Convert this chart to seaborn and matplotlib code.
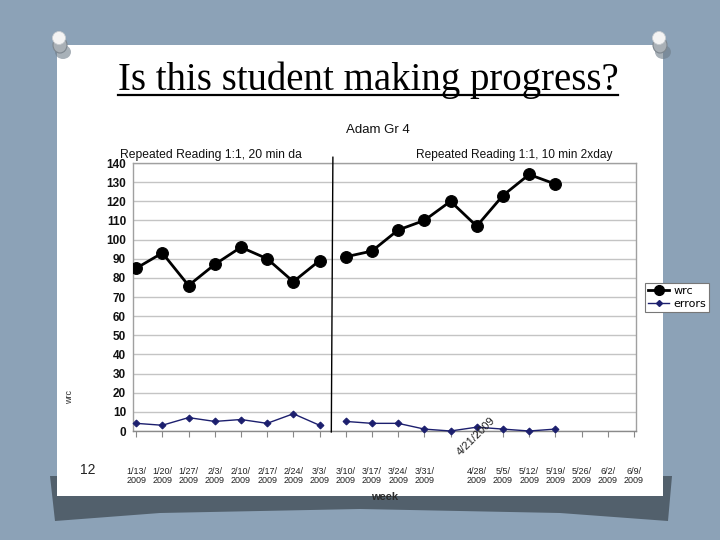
import matplotlib
matplotlib.use("Agg")
import matplotlib.pyplot as plt
from matplotlib.patches import Rectangle, Polygon, Ellipse
from matplotlib.lines import Line2D
import seaborn as sns

# ---------------- data ----------------
weeks = list(range(20))
week_labels = ["1/13/2009", "1/20/2009", "1/27/2009", "2/3/2009", "2/10/2009",
               "2/17/2009", "2/24/2009", "3/3/2009", "3/10/2009", "3/17/2009",
               "3/24/2009", "3/31/2009", "4/21/2009", "4/28/2009", "5/5/2009",
               "5/12/2009", "5/19/2009", "5/26/2009", "6/2/2009", "6/9/2009"]
phase1_weeks = [0, 1, 2, 3, 4, 5, 6, 7]
phase2_weeks = [8, 9, 10, 11, 12, 13, 14, 15, 16]
wrc_phase1 = [85, 93, 76, 87, 96, 90, 78, 89]
wrc_phase2 = [91, 94, 105, 110, 120, 107, 123, 134, 129]
err_phase1 = [4, 3, 7, 5, 6, 4, 9, 3]
err_phase2 = [5, 4, 4, 1, 0, 2, 1, 0, 1]
phase_labels = ["Repeated Reading 1:1, 20 min day", "Repeated Reading 1:1, 10 min 2xday"]
phase_change = 7.48
yticks = list(range(0, 141, 10))

W, H = 720, 540
def fx(x): return x / W
def fy(y): return 1 - y / H

fig = plt.figure(figsize=(7.2, 5.4), dpi=100)
fig.patch.set_facecolor("#8ca2b7")

# shadow band under slide
shadow = Polygon([(fx(50), fy(476)), (fx(672), fy(476)), (fx(668), fy(521)),
                  (fx(560), fy(513)), (fx(360), fy(509)), (fx(160), fy(513)),
                  (fx(55), fy(521))], closed=True, transform=fig.transFigure,
                 facecolor="#52606c", edgecolor="none", zorder=0)
fig.add_artist(shadow)
# white slide
slide = Rectangle((fx(57), fy(496)), (663 - 57) / W, (496 - 45) / H,
                  transform=fig.transFigure, facecolor="white", edgecolor="none", zorder=0.5)
fig.add_artist(slide)
# pins
for cx in (60, 660):
    fig.add_artist(Ellipse((fx(cx + 3), fy(52)), 16 / W, 14 / H, transform=fig.transFigure,
                           facecolor="#6f7d89", edgecolor="none", alpha=0.6, zorder=1))
    fig.add_artist(Ellipse((fx(cx), fy(45)), 14 / W, 16 / H, transform=fig.transFigure,
                           facecolor="#a9b0b6", edgecolor="#7d868e", lw=0.8, zorder=1.1))
    fig.add_artist(Ellipse((fx(cx - 1), fy(38)), 13 / W, 13 / H, transform=fig.transFigure,
                           facecolor="#f4f4f4", edgecolor="#c8ccd0", lw=0.6, zorder=1.2))

# slide title
title = fig.text(fx(368), fy(90), "Is this student making progress?", ha="center",
                 va="baseline", fontsize=28, family="Liberation Serif", color="black", zorder=3)

# ---------------- chart ----------------
ax = fig.add_axes([fx(133), fy(431), (636 - 133) / W, (431 - 163) / H])
ax.set_zorder(2)
ax.set_facecolor("white")

for xs, ys in ((phase1_weeks, wrc_phase1), (phase2_weeks, wrc_phase2)):
    sns.lineplot(x=xs, y=ys, ax=ax, color="black", lw=2.0, marker="o", markersize=8.5,
                 markeredgecolor="black", markerfacecolor="black", legend=False, zorder=4)
for xs, ys in ((phase1_weeks, err_phase1), (phase2_weeks, err_phase2)):
    sns.lineplot(x=xs, y=ys, ax=ax, color="#1c1f6e", lw=1.0, marker="D", markersize=3.5,
                 markeredgecolor="#1c1f6e", markerfacecolor="#1c1f6e", legend=False,
                 zorder=4, clip_on=False)

ax.set_xlim(-0.12, 19.08)
ax.set_ylim(0, 140)
ax.set_yticks(yticks)
ax.set_yticklabels([str(v) for v in yticks], fontsize=8.5, family="Liberation Sans",
                   fontweight="bold", color="#111111")
ax.set_xticks(weeks)
row_labels = []
for i, l in enumerate(week_labels):
    if i == 12:
        row_labels.append("")
    else:
        a, b = l.rsplit("/", 1)
        row_labels.append(a + "/\n" + b)
ax.set_xticklabels(row_labels, fontsize=6.5, family="Liberation Sans", color="#222222",
                   linespacing=0.95)
ax.tick_params(axis="x", length=4, color="#888888", pad=22, direction="out")
ax.tick_params(axis="y", length=0, pad=5)
ax.grid(axis="y", color="#c4c4c4", lw=1.0)
ax.grid(axis="x", visible=False)
ax.set_axisbelow(True)
for s in ax.spines.values():
    s.set_color("#a0a0a0")
    s.set_linewidth(1.0)
ax.spines["bottom"].set_color("#8a8a8a")
ax.set_xlabel("")
ax.set_ylabel("")

# phase change line
ax.plot([phase_change - 0.03, phase_change + 0.03], [-0.5, 143], color="black", lw=1.0,
        clip_on=False, zorder=5)

# chart title and phase labels
fig.text(fx(378), fy(130), "Adam Gr 4", ha="center", va="center", fontsize=9.5,
         family="Liberation Sans", color="#111111", zorder=3)
t1 = fig.text(fx(120), fy(155), phase_labels[0], ha="left", va="center", fontsize=8.7,
              family="Liberation Sans", color="#111111", zorder=3)
clip = Rectangle((0, 0), fx(302), 1, transform=fig.transFigure)
t1.set_clip_path(clip)
fig.text(fx(514), fy(155), phase_labels[1], ha="center", va="center", fontsize=8.6,
         family="Liberation Sans", color="#111111", zorder=3)

# axis titles & artefacts
fig.text(fx(70), fy(397), "wrc", rotation=90, ha="center", va="center", fontsize=6.5,
         family="Liberation Sans", color="#333333", zorder=3)
fig.text(fx(88), fy(470), "12", ha="center", va="center", fontsize=10,
         family="Liberation Sans", color="#222222", zorder=3)
fig.text(fx(476), fy(436), week_labels[12], rotation=45, ha="center", va="center",
         fontsize=8, family="Liberation Sans", color="#222222", zorder=3)
fig.text(fx(385), fy(497), "week", ha="center", va="center", fontsize=8,
         family="Liberation Sans", fontweight="bold", color="#2b2b2b", zorder=3)

# legend
handles = [Line2D([], [], color="black", lw=2.0, marker="o", markersize=7),
           Line2D([], [], color="#1c1f6e", lw=1.0, marker="D", markersize=3)]
leg = fig.legend(handles, ["wrc", "errors"], loc="upper left",
                 bbox_to_anchor=(fx(645), fy(283)), fontsize=8, frameon=True,
                 fancybox=False, edgecolor="#777777", framealpha=1, handlelength=1.9,
                 borderpad=0.3, labelspacing=0.25, handletextpad=0.35, borderaxespad=0)
leg.get_frame().set_linewidth(0.8)
leg.set_zorder(6)

# underline the slide title
fig.canvas.draw()
bb = title.get_window_extent()
fig.add_artist(Line2D([bb.x0 / W, bb.x1 / W], [fy(95), fy(95)], transform=fig.transFigure,
                      color="black", lw=1.6, zorder=3))

fig.savefig("out.png", dpi=100, facecolor=fig.get_facecolor())
